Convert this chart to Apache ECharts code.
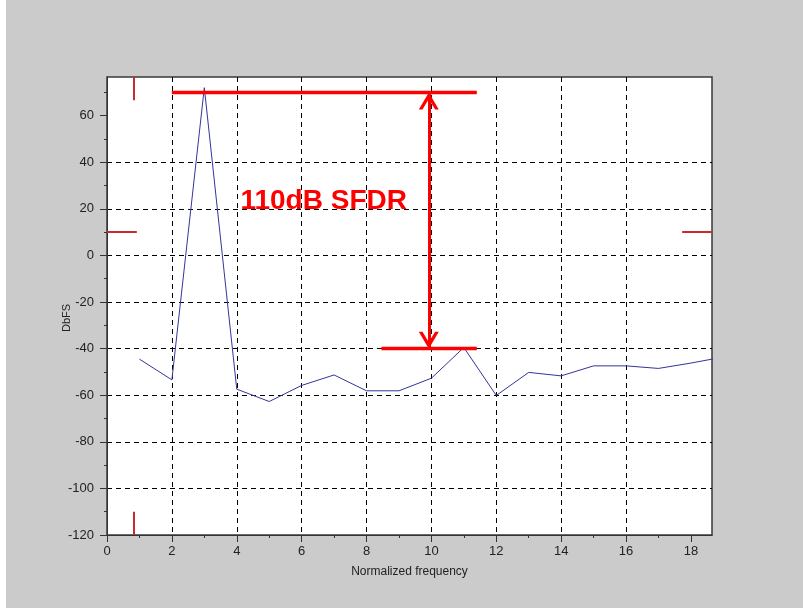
<!DOCTYPE html>
<html>
<head>
<meta charset="utf-8">
<script src="https://cdn.jsdelivr.net/npm/echarts@6/dist/echarts.min.js"></script>
<style>
  html, body { margin: 0; padding: 0; background: #ffffff; }
  #chart { position: absolute; left: 6px; top: 0; width: 797px; height: 608px; }
</style>
</head>
<body>
<div id="chart"></div>
<script>
// Spectrum samples (normalized frequency bin -> level in dBFS)
const freq = [1, 2, 3, 4, 5, 6, 7, 8, 9, 10, 11, 12, 13, 14, 15, 16, 17, 18, 19];
const dbfs = [-44.5, -53.4, 72, -57.4, -62.7, -55.8, -51.3, -58.1, -58.1, -52.7,
              -39.5, -60.1, -50.2, -51.7, -47.4, -47.4, -48.5, -46.2, -43.6];

// Axis ranges and tick labels
const xRange = [0, 18.65];
const yRange = [-120, 76.6];
const xMajor = [0, 2, 4, 6, 8, 10, 12, 14, 16, 18];
const xMinor = [1, 3, 5, 7, 9, 11, 13, 15, 17];
const yMajor = [-120, -100, -80, -60, -40, -20, 0, 20, 40, 60];
const yMinor = [-110, -90, -70, -50, -30, -10, 10, 30, 50, 70];

// SFDR annotation: carrier level, worst spur level, and where the bracket sits
const carrierLevel = 70;
const spurLevel = -40;
const sfdrText = (carrierLevel - spurLevel) + 'dB SFDR';
const carrierSpan = [2, 11.4];
const spurSpan = [8.46, 11.4];
const arrowX = 9.92;
const textAt = [6.68, 23.1];

// Small crop marks around the plot frame
const markX = 0.84;
const markY = 10;
const markLen = [0.92, 10];

const FONT = 'Liberation Sans, Arial, sans-serif';
const RED = '#ff0000';
const MARK_RED = '#cc2a2a';

// Open chevron head, tip at the origin; the lone move keeps the tip centred
const chevron = 'path://M0,-17 M0,0 L10,17 L6.3,17 L0,6.5 L-6.3,17 L-10,17 Z';

const chart = echarts.init(document.getElementById('chart'), null, { renderer: 'canvas' });

const tickLabel = { color: '#222', fontSize: 13, fontFamily: FONT };
const dashed = { show: true, showMinLine: false, showMaxLine: false,
                 lineStyle: { color: '#000', type: [5, 4], width: 1 } };

function majorX() {
  return {
    type: 'value', gridIndex: 0, position: 'bottom',
    min: xRange[0], max: xRange[1], interval: 2,
    axisLine: { show: true, onZero: false, lineStyle: { color: '#333', width: 1 } },
    axisTick: { show: true, customValues: xMajor, length: 7, lineStyle: { color: '#333' } },
    axisLabel: Object.assign({ customValues: xMajor, margin: 10 }, tickLabel),
    splitLine: dashed,
    name: 'Normalized frequency', nameLocation: 'middle', nameGap: 31,
    nameMoveOverlap: false,
    nameTextStyle: { color: '#222', fontSize: 12, fontFamily: FONT }
  };
}
function minorX() {
  return {
    type: 'value', gridIndex: 0, position: 'bottom',
    min: xRange[0], max: xRange[1], interval: 2,
    axisLine: { show: false, onZero: false },
    axisTick: { show: true, customValues: xMinor, length: 3, lineStyle: { color: '#333' } },
    axisLabel: { show: false }, splitLine: { show: false }
  };
}
function majorY() {
  return {
    type: 'value', gridIndex: 0, position: 'left',
    min: yRange[0], max: yRange[1], interval: 20,
    axisLine: { show: true, onZero: false, lineStyle: { color: '#333', width: 1 } },
    axisTick: { show: true, customValues: yMajor, length: 7, lineStyle: { color: '#333' } },
    axisLabel: Object.assign({ customValues: yMajor, margin: 13 }, tickLabel),
    splitLine: dashed,
    name: 'DbFS', nameLocation: 'middle', nameGap: 35, nameRotate: 90,
    nameMoveOverlap: false,
    nameTextStyle: { color: '#222', fontSize: 11, fontFamily: FONT, padding: [0, 24, 0, 0] }
  };
}
function minorY() {
  return {
    type: 'value', gridIndex: 0, position: 'left',
    min: yRange[0], max: yRange[1], interval: 20,
    axisLine: { show: false, onZero: false },
    axisTick: { show: true, customValues: yMinor, length: 3, lineStyle: { color: '#333' } },
    axisLabel: { show: false }, splitLine: { show: false }
  };
}

function seg(a, b, style, extra) {
  return [Object.assign({ coord: a, lineStyle: style }, extra || {}),
          Object.assign({ coord: b, lineStyle: style }, extra || {})];
}

const redThick = { color: RED, width: 3.3, type: 'solid' };
const redArrow = { color: RED, width: 3, type: 'solid' };
const cropStyle = { color: MARK_RED, width: 2, type: 'solid' };

chart.setOption({
  backgroundColor: '#cbcbcb',
  animation: false,
  grid: {
    left: 101, top: 77, width: 605, height: 458,
    show: true, backgroundColor: '#ffffff', borderColor: '#3a3a3a', borderWidth: 1.5,
    containLabel: false, outerBoundsMode: 'none'
  },
  xAxis: [majorX(), minorX()],
  yAxis: [majorY(), minorY()],
  series: [
    {
      type: 'line',
      xAxisIndex: 0, yAxisIndex: 0,
      data: freq.map((f, i) => [f, dbfs[i]]),
      showSymbol: false, symbol: 'none',
      clip: true,
      lineStyle: { color: '#34349a', width: 1 },
      z: 3
    },
    {
      type: 'line',
      xAxisIndex: 0, yAxisIndex: 0,
      data: [],
      z: 5,
      markLine: {
        silent: true,
        symbol: ['none', 'none'],
        label: { show: false },
        emphasis: { disabled: true },
        data: [
          seg([carrierSpan[0], carrierLevel], [carrierSpan[1], carrierLevel], redThick),
          seg([spurSpan[0], spurLevel], [spurSpan[1], spurLevel], redThick),
          seg([arrowX, carrierLevel], [arrowX, spurLevel], redArrow,
              { symbol: chevron, symbolSize: [20, 34] }),
          seg([markX, yRange[1]], [markX, yRange[1] - markLen[1]], cropStyle),
          seg([markX, yRange[0]], [markX, yRange[0] + markLen[1]], cropStyle),
          seg([xRange[0], markY], [xRange[0] + markLen[0], markY], cropStyle),
          seg([xRange[1] - markLen[0], markY], [xRange[1], markY], cropStyle)
        ]
      },
      markPoint: {
        silent: true,
        symbol: 'circle', symbolSize: 0,
        data: [{ coord: textAt, value: sfdrText }],
        label: {
          show: true, position: 'inside', formatter: sfdrText,
          color: RED, fontSize: 28, fontWeight: 'bold', fontFamily: FONT
        }
      }
    }
  ]
});
</script>
</body>
</html>
